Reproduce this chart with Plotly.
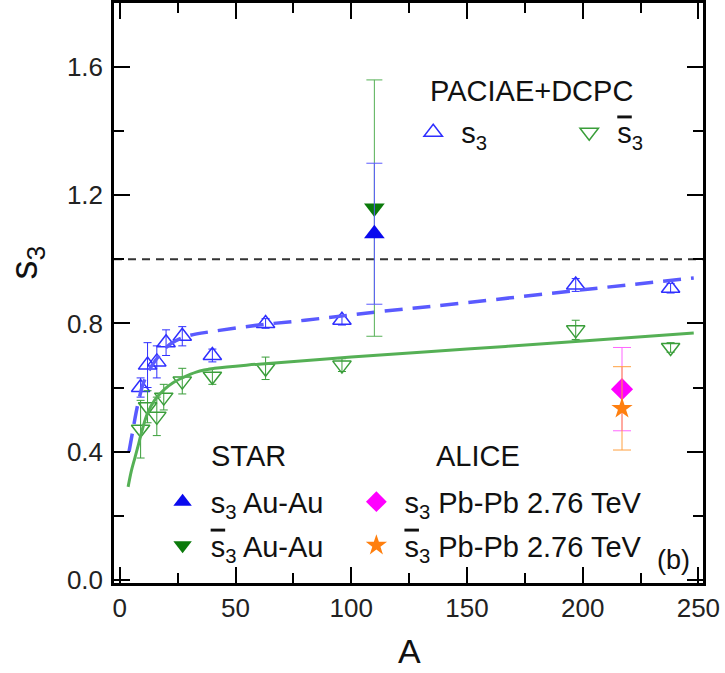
import plotly.graph_objects as go

# ---------------- data ----------------
# PACIAE+DCPC, s3 (open up triangles)
pac_A = [9, 12, 16, 20, 27, 40, 63, 96, 197, 238]
pac_s3 = [0.60, 0.67, 0.68, 0.74, 0.76, 0.70, 0.80, 0.81, 0.92, 0.91]
pac_s3_err = [0.03, 0.07, 0.05, 0.04, 0.03, 0.02, 0.015, 0.015, 0.02, 0.015]

# PACIAE+DCPC, anti-s3 (open down triangles)
pacbar_A = [9, 12, 16, 19, 27, 40, 63, 96, 197, 238]
pac_s3bar = [0.47, 0.54, 0.51, 0.57, 0.62, 0.635, 0.66, 0.67, 0.78, 0.725]
pac_s3bar_err = [0.09, 0.05, 0.06, 0.04, 0.04, 0.025, 0.035, 0.02, 0.03, 0.015]

# fitted curves
fit_s3_A = [4, 5.5, 7, 8.5, 10, 12, 14, 17, 20, 24, 30, 40, 60, 80, 110, 150, 200, 248]
fit_s3_y = [0.40, 0.46, 0.52, 0.57, 0.61, 0.645, 0.67, 0.70, 0.725, 0.745, 0.762,
            0.775, 0.795, 0.81, 0.835, 0.865, 0.905, 0.942]
fit_s3bar_A = [3.6, 5, 6.5, 8, 9.4, 12, 15, 19.4, 23, 27, 33, 41, 60, 100, 150, 200, 248]
fit_s3bar_y = [0.29, 0.34, 0.38, 0.42, 0.46, 0.52, 0.56, 0.595, 0.615, 0.63, 0.648,
               0.66, 0.673, 0.695, 0.72, 0.745, 0.77]

# STAR Au-Au
star_A = [110]
star_s3 = [1.08]
star_s3_err = [0.22]
star_s3bar = [1.16]
star_s3bar_err = [0.40]

# ALICE Pb-Pb 2.76 TeV
alice_A = [217]
alice_s3 = [0.595]
alice_s3_err = [0.13]
alice_s3bar = [0.535]
alice_s3bar_err = [0.13]

x_ticks = [0, 50, 100, 150, 200, 250]
y_ticks = [0.0, 0.4, 0.8, 1.2, 1.6]

# ---------------- styling ----------------
FONT = "Liberation Sans, Arial, sans-serif"
BLUE = "#2f2fff"
GREEN = "#3a9e3a"
BLUE_LINE = "#5a5aff"
GREEN_LINE = "#55b055"
SP = "\u00a0"
S3 = "s<sub>3</sub>"
S3BAR = '<span style="text-decoration:overline">s</span><sub>3</sub>'

fig = go.Figure()

# PACIAE points
fig.add_trace(go.Scatter(
    x=pac_A, y=pac_s3, mode="markers", name=SP + S3, legend="legend",
    marker=dict(symbol="triangle-up-open", size=16, color=BLUE, line=dict(width=1.5, color=BLUE)),
    error_y=dict(type="data", array=pac_s3_err, color=BLUE, thickness=1, width=4),
))
fig.add_trace(go.Scatter(
    x=pacbar_A, y=pac_s3bar, mode="markers", name=SP + S3BAR, legend="legend",
    marker=dict(symbol="triangle-down-open", size=16, color=GREEN, line=dict(width=1.5, color=GREEN)),
    error_y=dict(type="data", array=pac_s3bar_err, color=GREEN, thickness=1, width=4),
))

# fit curves
fig.add_trace(go.Scatter(
    x=fit_s3_A, y=fit_s3_y, mode="lines", showlegend=False, line_shape="spline",
    line=dict(color=BLUE_LINE, width=3.5, dash="18px,10px"),
))
fig.add_trace(go.Scatter(
    x=fit_s3bar_A, y=fit_s3bar_y, mode="lines", showlegend=False, line_shape="spline",
    line=dict(color=GREEN_LINE, width=3),
))

# STAR
fig.add_trace(go.Scatter(
    x=star_A, y=star_s3bar, mode="markers", name=SP + S3BAR + " Au-Au", legend="legend2",
    legendgroup="b", legendrank=2,
    marker=dict(symbol="triangle-down", size=18, color="#0b7a0b"),
    error_y=dict(type="data", array=star_s3bar_err, color=GREEN_LINE, thickness=1, width=8),
))
fig.add_trace(go.Scatter(
    x=star_A, y=star_s3, mode="markers", name=SP + S3 + " Au-Au", legend="legend2",
    legendgroup="a", legendrank=1,
    marker=dict(symbol="triangle-up", size=18, color="#0a0aee"),
    error_y=dict(type="data", array=star_s3_err, color=BLUE_LINE, thickness=1, width=8),
))

# ALICE
fig.add_trace(go.Scatter(
    x=alice_A, y=alice_s3, mode="markers", name=SP + S3 + " Pb-Pb 2.76 TeV", legend="legend3",
    legendgroup="c", legendrank=1,
    marker=dict(symbol="diamond", size=17, color="#ff00ff"),
    error_y=dict(type="data", array=alice_s3_err, color="#ff66ff", thickness=1, width=9),
))
fig.add_trace(go.Scatter(
    x=alice_A, y=alice_s3bar, mode="markers", name=SP + S3BAR + " Pb-Pb 2.76 TeV", legend="legend3",
    legendgroup="d", legendrank=2,
    marker=dict(symbol="star", size=16, color="#ff7f0e"),
    error_y=dict(type="data", array=alice_s3bar_err, color="#ffa040", thickness=1, width=9),
))

fig.add_hline(y=1.0, line=dict(color="#333333", width=2, dash="8px,6px"), layer="below")

axis_common = dict(
    showgrid=False, zeroline=False, showline=True, linecolor="black", linewidth=2.5,
    mirror="ticks", ticks="inside", ticklen=16, tickwidth=2, tickcolor="black",
    tickfont=dict(family=FONT, size=26, color="#222222"),
)
fig.update_xaxes(range=[-2.5, 252], tickvals=x_ticks,
                 minor=dict(dtick=25, tick0=0, ticks="inside", ticklen=10, tickwidth=2, tickcolor="black"),
                 **axis_common)
fig.update_yaxes(range=[-0.01, 1.8], tickvals=y_ticks, tickformat=".1f", ticklabelstandoff=3,
                 minor=dict(dtick=0.2, tick0=0, ticks="inside", ticklen=10, tickwidth=2, tickcolor="black"),
                 **axis_common)

leg_font = dict(family=FONT, size=29, color="#111111")
fig.update_layout(
    width=725, height=673,
    margin=dict(l=114, r=22, t=3, b=90, autoexpand=False),
    paper_bgcolor="white", plot_bgcolor="white",
    font=dict(family=FONT, color="#111111"),
    legend=dict(orientation="h", x=0.508, y=0.821, xanchor="left", yanchor="top",
                font=leg_font, bgcolor="rgba(0,0,0,0)", entrywidth=111, entrywidthmode="pixels"),
    legend2=dict(orientation="v", x=0.0825, y=0.184, xanchor="left", yanchor="top",
                 font=leg_font, bgcolor="rgba(0,0,0,0)", traceorder="grouped", tracegroupgap=3),
    legend3=dict(orientation="v", x=0.4115, y=0.184, xanchor="left", yanchor="top",
                 font=leg_font, bgcolor="rgba(0,0,0,0)", traceorder="grouped", tracegroupgap=3),
    annotations=[
        dict(text="PACIAE+DCPC", x=133, y=1.526, xref="x", yref="y", xanchor="left", yanchor="middle",
             showarrow=False, font=leg_font),
        dict(text="STAR", x=55.7, y=0.387, xref="x", yref="y", xanchor="center", yanchor="middle",
             showarrow=False, font=leg_font),
        dict(text="ALICE", x=135.7, y=0.387, xref="x", yref="y", xanchor="left", yanchor="middle",
             showarrow=False, font=leg_font),
        dict(text="(b)", x=239.2, y=0.062, xref="x", yref="y", xanchor="center", yanchor="middle",
             showarrow=False, font=dict(family=FONT, size=27, color="#111111")),
        dict(text="s<sub>3</sub>", x=-0.148, y=0.99, xref="paper", yref="y", textangle=-90,
             xanchor="center", yanchor="middle", showarrow=False,
             font=dict(family=FONT, size=38, color="#111111")),
        dict(text="A", x=125, y=-0.117, xref="x", yref="paper", xanchor="center", yanchor="middle",
             showarrow=False, font=dict(family=FONT, size=34, color="#111111")),
    ],
)

fig.write_html("out.html", config={"displayModeBar": False},
               post_script="document.body.style.margin='0px';")
